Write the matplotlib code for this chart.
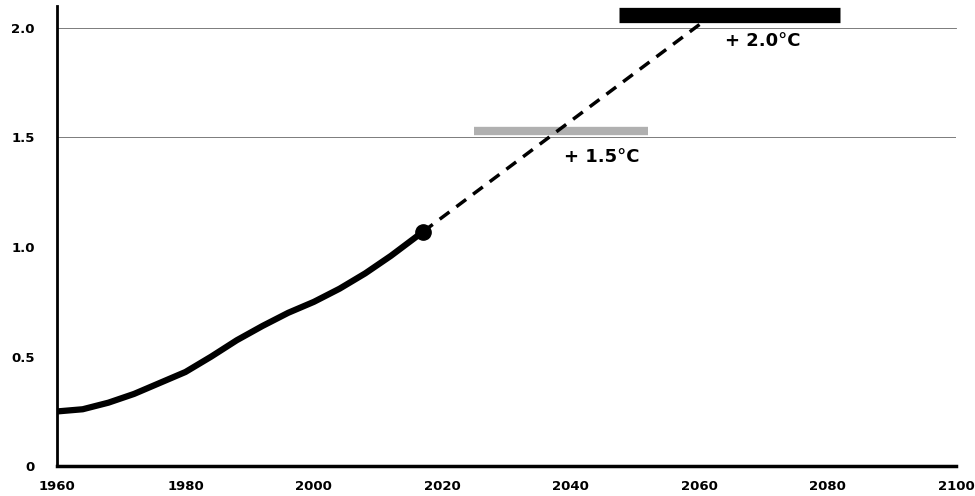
import numpy as np
import matplotlib.pyplot as plt

# observed warming (deg C above pre-industrial)
obs_years = [1960, 1964, 1968, 1972, 1976, 1980, 1984, 1988, 1992, 1996, 2000, 2004, 2008, 2012, 2017]
obs_temp = [0.25, 0.26, 0.29, 0.33, 0.38, 0.43, 0.50, 0.575, 0.64, 0.70, 0.75, 0.81, 0.88, 0.96, 1.07]

# projection
proj_years = [2017, 2063]
proj_temp = [1.07, 2.08]

# target ranges
band_15 = (2025, 2052)
band_20 = (2047.5, 2082)

xticks = [1960, 1980, 2000, 2020, 2040, 2060, 2080, 2100]
yticks = [0, 0.5, 1.0, 1.5, 2.0]
ylabels = ['0', '0.5', '1.0', '1.5', '2.0']

fig = plt.figure(figsize=(9.75, 4.96), dpi=100)
ax = fig.add_axes([0.0585, 0.06, 0.922, 0.928])

ax.axhline(1.5, color='#666666', lw=0.6, zorder=1)
ax.axhline(2.0, color='#666666', lw=0.6, zorder=1, clip_on=False)
ax.plot(band_15, [1.53, 1.53], color='#b0b0b0', lw=6, solid_capstyle='butt', zorder=2)
ax.plot(band_20, [2.06, 2.06], color='black', lw=11, solid_capstyle='butt', zorder=2, clip_on=False)

ax.plot(obs_years, obs_temp, color='black', lw=4.5, solid_capstyle='butt', zorder=3)
ax.plot(proj_years, proj_temp, color='black', lw=2.5, ls=(0, (3.5, 2.5)), zorder=3, clip_on=False)
ax.plot(obs_years[-1], obs_temp[-1], 'o', color='black', ms=11, zorder=4)

ax.text(2039, 1.41, '+ 1.5°C', fontsize=13, fontweight='bold', ha='left', va='center')
ax.text(2064, 1.94, '+ 2.0°C', fontsize=13, fontweight='bold', ha='left', va='center')

ax.set_xlim(1960, 2100)
ax.set_ylim(0, 2.1)
ax.set_xticks(xticks)
ax.set_xticklabels([str(t) for t in xticks], fontsize=9.5, fontweight='bold')
ax.set_yticks(yticks)
ax.set_yticklabels(ylabels, fontsize=9.5, fontweight='bold')
ax.tick_params(axis='x', length=0, pad=10)
ax.tick_params(axis='y', length=0, pad=16)

for s in ['top', 'right']:
    ax.spines[s].set_visible(False)
ax.spines['left'].set_linewidth(2)
ax.spines['bottom'].set_linewidth(2.5)

fig.savefig('out.png', dpi=100)
